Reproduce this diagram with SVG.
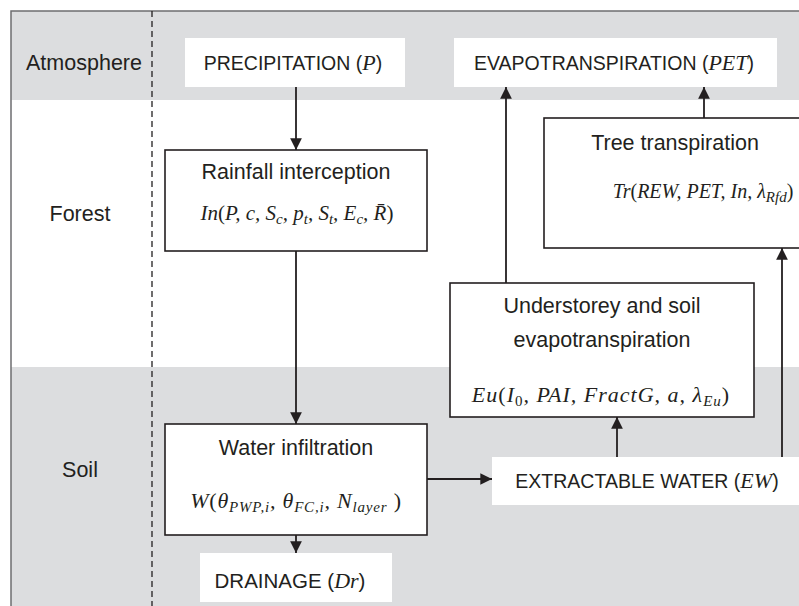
<svg xmlns="http://www.w3.org/2000/svg" width="799" height="606" viewBox="0 0 799 606">
<defs>
<style>
.band{fill:#dcdddf}
.box{fill:#fff;stroke:#231f20;stroke-width:1.6}
.lbl{fill:#fff}
.t{font-family:"Liberation Sans","DejaVu Sans",sans-serif;font-size:19.5px;fill:#231f20;text-anchor:middle}
.l{font-size:21.5px}
.m{font-family:"Liberation Serif","DejaVu Serif",serif;font-style:italic;font-size:22px}
.mu{font-family:"Liberation Serif","DejaVu Serif",serif;font-style:normal}
.s{font-size:15px}
.c{stroke:#231f20;stroke-width:1.8;fill:none;marker-end:url(#ah)}
</style>
<marker id="ah" viewBox="0 0 10 10" refX="10" refY="5" markerWidth="6.5" markerHeight="6.5" orient="auto" markerUnits="strokeWidth">
<path d="M0,0 L10,5 L0,10 z" fill="#231f20"/>
</marker>
</defs>
<rect width="799" height="606" fill="#fff"/>
<g id="bands">
<rect class="band" x="11" y="11" width="788" height="89"/>
<rect class="band" x="11" y="367" width="788" height="239"/>
<path d="M11,606 V11 H799" fill="none" stroke="#6d6e70" stroke-width="1.5"/>
<line x1="152" y1="11" x2="152" y2="606" stroke="#231f20" stroke-width="1.3" stroke-dasharray="6,4"/>
<text class="t l" x="84" y="70">Atmosphere</text>
<text class="t l" x="80" y="221">Forest</text>
<text class="t l" x="80" y="477">Soil</text>
</g>
<g id="connectors">
<line class="c" x1="296" y1="87" x2="296" y2="150"/>
<line class="c" x1="296" y1="251" x2="296" y2="424"/>
<line class="c" x1="296" y1="535" x2="296" y2="553"/>
<line class="c" x1="427" y1="479" x2="492" y2="479"/>
<line class="c" x1="617" y1="457" x2="617" y2="417"/>
<line class="c" x1="506" y1="283" x2="506" y2="87"/>
<line class="c" x1="704" y1="118" x2="704" y2="87"/>
<line class="c" x1="782" y1="457" x2="782" y2="248"/>
</g>
<g id="precipitation">
<rect class="lbl" x="185" y="38" width="220" height="49"/>
<text class="t" x="293" y="70">PRECIPITATION (<tspan class="m">P</tspan>)</text>
</g>
<g id="evapotranspiration">
<rect class="lbl" x="454" y="38" width="323" height="49"/>
<text class="t" x="614" y="70">EVAPOTRANSPIRATION (<tspan class="m">PET</tspan>)</text>
</g>
<g id="rainfall-interception">
<rect class="box" x="165" y="150" width="262" height="101"/>
<text class="t l" x="296" y="179">Rainfall interception</text>
<text class="t m" x="297" y="220" style="font-size:21px">In<tspan class="mu">(</tspan>P, c, S<tspan class="s" dy="4">c</tspan><tspan dy="-4">, p</tspan><tspan class="s" dy="4">t</tspan><tspan dy="-4">, S</tspan><tspan class="s" dy="4">t</tspan><tspan dy="-4">, E</tspan><tspan class="s" dy="4">c</tspan><tspan dy="-4">, R̄</tspan><tspan class="mu">)</tspan></text>
</g>
<g id="tree-transpiration">
<rect class="box" x="544" y="118" width="262" height="130"/>
<text class="t l" x="675" y="150">Tree transpiration</text>
<text class="t m" x="703" y="198" style="font-size:20px">Tr<tspan class="mu">(</tspan>REW, PET, In, λ<tspan class="s" dy="4">Rfd</tspan><tspan class="mu" dy="-4">)</tspan></text>
</g>
<g id="understorey">
<rect class="box" x="450" y="283" width="304" height="134"/>
<text class="t l" x="602" y="313">Understorey and soil</text>
<text class="t l" x="602" y="347">evapotranspiration</text>
<text class="t m" x="601" y="402" style="letter-spacing:1px">Eu<tspan class="mu">(</tspan>I<tspan class="s mu" dy="4">0</tspan><tspan dy="-4">, PAI, FractG, a, λ</tspan><tspan class="s" dy="4">Eu</tspan><tspan class="mu" dy="-4">)</tspan></text>
</g>
<g id="water-infiltration">
<rect class="box" x="165" y="424" width="262" height="111"/>
<text class="t l" x="296" y="455">Water infiltration</text>
<text class="t m" x="296" y="508" style="letter-spacing:0.8px">W<tspan class="mu">(</tspan>θ<tspan class="s" dy="4">PWP,i</tspan><tspan dy="-4">, θ</tspan><tspan class="s" dy="4">FC,i</tspan><tspan dy="-4">, N</tspan><tspan class="s" dy="4">layer</tspan><tspan class="mu" dy="-4"> )</tspan></text>
</g>
<g id="extractable-water">
<rect class="lbl" x="492" y="457" width="307" height="48"/>
<text class="t" x="647" y="488">EXTRACTABLE WATER (<tspan class="m">EW</tspan>)</text>
</g>
<g id="drainage">
<rect class="lbl" x="200" y="553" width="192" height="49"/>
<text class="t" x="290" y="588" style="font-size:20.5px">DRAINAGE (<tspan class="m">Dr</tspan>)</text>
</g>
</svg>
